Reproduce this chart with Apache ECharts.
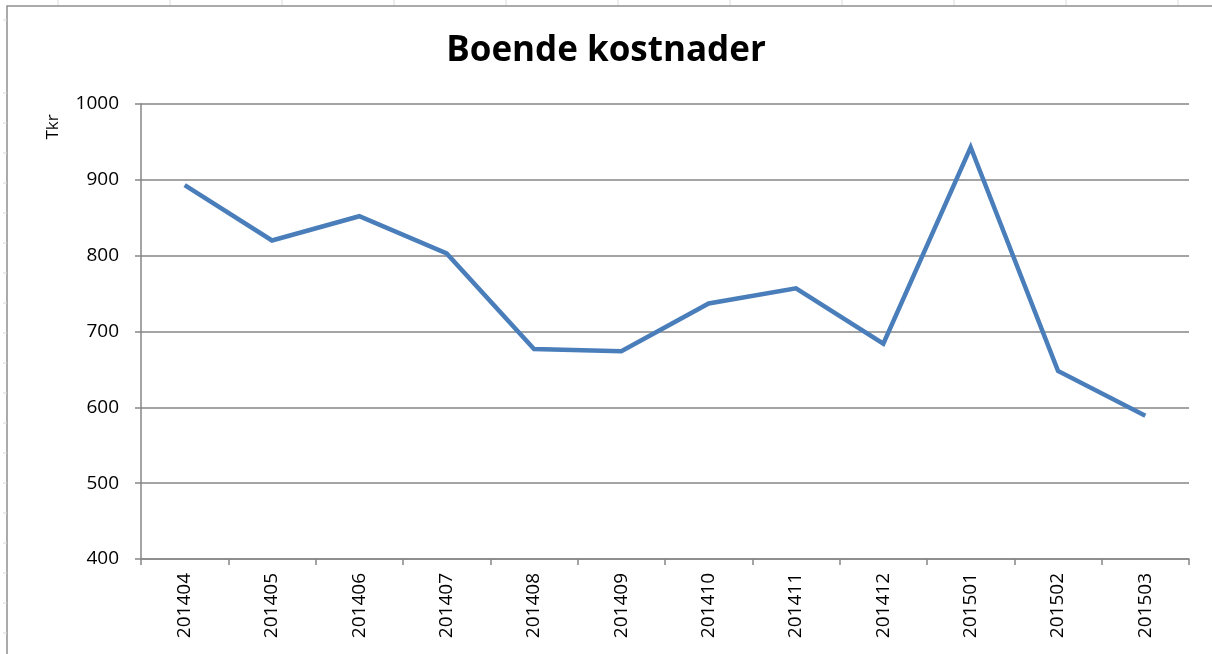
<!DOCTYPE html>
<html>
<head>
<meta charset="utf-8">
<script src="https://cdn.jsdelivr.net/npm/echarts@6/dist/echarts.min.js"></script>
<style>
  html, body { margin: 0; padding: 0; background: #fff; }
  #chart { width: 1212px; height: 654px; }
</style>
</head>
<body>
<div id="chart"></div>
<script>
// Monthly housing costs (Tkr)
const months = ['201404', '201405', '201406', '201407', '201408', '201409',
                '201410', '201411', '201412', '201501', '201502', '201503'];
const costs = [893, 820, 852, 803, 677, 674, 737, 757, 684, 943, 648, 589];
const yTicks = [400, 500, 600, 700, 800, 900, 1000];

const axisGray = '#868686';
const textFont = '"Open Sans", "Liberation Sans", sans-serif';

// faint sheet gridline stubs around the chart frame
const stubs = [];
for (let x = 58; x < 1212; x += 112) {
  stubs.push({ type: 'line', silent: true, shape: { x1: x, y1: 0, x2: x, y2: 5 },
               style: { stroke: '#dadada', lineWidth: 1 } });
}
const rowYs = [20];
for (let y = 93; y < 654; y += 30) rowYs.push(y);
rowYs.forEach(y => stubs.push({ type: 'line', silent: true,
  shape: { x1: 3, y1: y, x2: 7, y2: y }, style: { stroke: '#dadada', lineWidth: 1 } }));

const chart = echarts.init(document.getElementById('chart'));
chart.setOption({
  backgroundColor: '#ffffff',
  animation: false,
  title: {
    text: 'Boende kostnader',
    left: 'center',
    top: 29,
    textStyle: { fontFamily: textFont, fontWeight: 'bold', fontSize: 35, color: '#000' }
  },
  grid: { left: 141, right: 23, top: 104, bottom: 95 },
  xAxis: {
    type: 'category',
    data: months,
    boundaryGap: true,
    axisLine: { lineStyle: { color: axisGray, width: 1.5 } },
    axisTick: { show: true, length: 6, alignWithLabel: false, lineStyle: { color: axisGray, width: 1.5 } },
    axisLabel: { rotate: 90, margin: 14, fontFamily: textFont, fontSize: 19, color: '#000' },
    splitLine: { show: false }
  },
  yAxis: {
    type: 'value',
    min: yTicks[0],
    max: yTicks[yTicks.length - 1],
    interval: 100,
    axisLine: { show: true, lineStyle: { color: axisGray, width: 1.5 } },
    axisTick: { show: true, length: 6, lineStyle: { color: axisGray, width: 1.5 } },
    axisLabel: { margin: 22, fontFamily: textFont, fontSize: 19, color: '#000',
                 formatter: v => String(v) },
    splitLine: { show: true, lineStyle: { color: axisGray, width: 1.5 } }
  },
  series: [{
    type: 'line',
    data: costs,
    showSymbol: false,
    lineStyle: { color: '#4a7ebb', width: 4.5, join: 'miter' },
    itemStyle: { color: '#4a7ebb' }
  }],
  graphic: [
    { type: 'rect', silent: true, shape: { x: 7, y: 6, width: 1300, height: 800 },
      style: { fill: 'none', stroke: '#8e8e8e', lineWidth: 1.5 } },
    { type: 'text', silent: true, x: 53, y: 127, rotation: Math.PI / 2,
      style: { text: 'Tkr', fontFamily: textFont, fontSize: 17, fill: '#000',
               textAlign: 'center', textVerticalAlign: 'middle' } }
  ].concat(stubs)
});
</script>
</body>
</html>
